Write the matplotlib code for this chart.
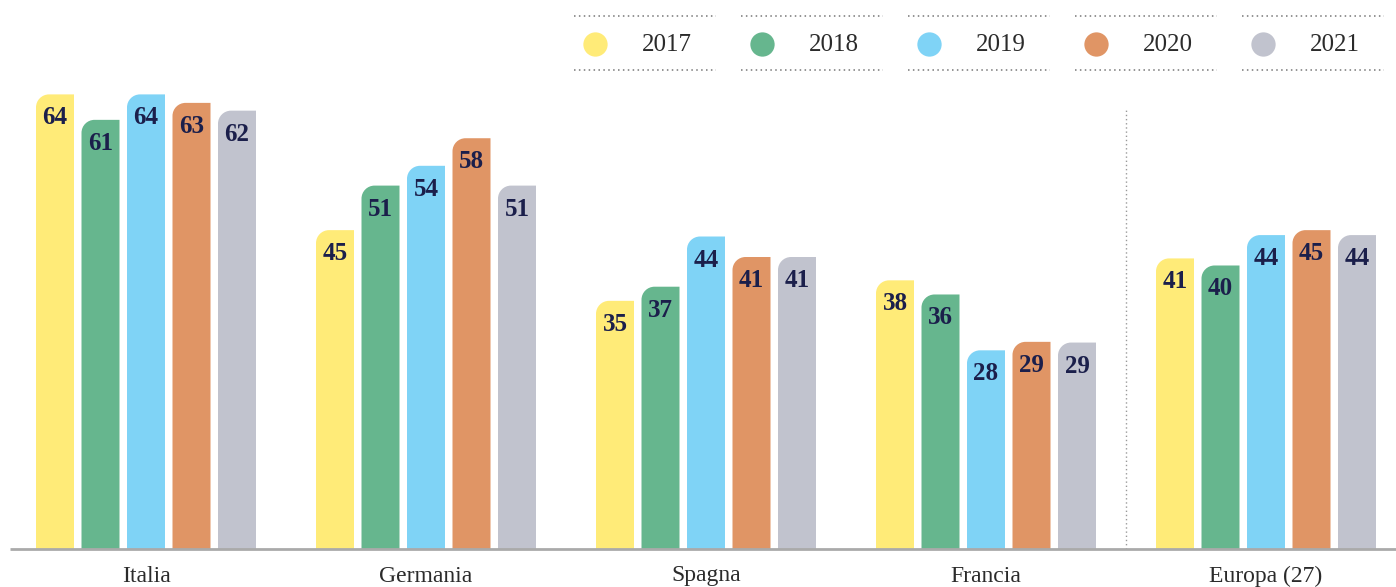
import matplotlib
matplotlib.use("Agg")
import matplotlib.pyplot as plt
from matplotlib.path import Path
from matplotlib.patches import PathPatch
from matplotlib.lines import Line2D

categories = ["Italia", "Germania", "Spagna", "Francia", "Europa (27)"]
years = ["2017", "2018", "2019", "2020", "2021"]
# bar heights (estimated, unrounded)
values = {
    "2017": [64.3, 45.1, 35.1, 38.0, 41.1],
    "2018": [60.7, 51.4, 37.1, 36.0, 40.1],
    "2019": [64.3, 54.2, 44.2, 28.1, 44.4],
    "2020": [63.1, 58.1, 41.3, 29.3, 45.1],
    "2021": [62.0, 51.4, 41.3, 29.2, 44.4],
}
# printed labels
labels = {
    "2017": [64, 45, 35, 38, 41],
    "2018": [61, 51, 37, 36, 40],
    "2019": [64, 54, 44, 28, 44],
    "2020": [63, 58, 41, 29, 45],
    "2021": [62, 51, 41, 29, 44],
}
colors = ["#FFEB78", "#66B68E", "#7FD3F6", "#E09565", "#C1C3CE"]
label_color = "#1B1F4B"

W, H = 1396, 587
fig = plt.figure(figsize=(W / 100, H / 100), dpi=100)
ax = fig.add_axes([0, 0, 1, 1])
ax.set_axis_off()

px_x = 280.0        # pixels per category unit
px_y = 7.07         # pixels per value unit
x0_px = 146.0       # pixel of first category centre
base_px = 549.0     # baseline pixel from top
ax.set_xlim(-x0_px / px_x, (W - x0_px) / px_x)
ax.set_ylim(-(H - base_px) / px_y, base_px / px_y)

step = 45.5 / px_x
bw = 38.0 / px_x
rx = 13.0 / px_x
ry = 13.0 / px_y
k = 0.5523

serif = ["Liberation Serif", "DejaVu Serif"]

for j, (yr, col) in enumerate(zip(years, colors)):
    for i, (v, lab) in enumerate(zip(values[yr], labels[yr])):
        xc = i + (j - 2) * step
        l, r = xc - bw / 2, xc + bw / 2
        verts = [
            (l, 0), (r, 0), (r, v), (l + rx, v),
            (l + rx * (1 - k), v), (l, v - ry * (1 - k)), (l, v - ry),
            (l, 0), (l, 0),
        ]
        codes = [Path.MOVETO, Path.LINETO, Path.LINETO, Path.LINETO,
                 Path.CURVE4, Path.CURVE4, Path.CURVE4,
                 Path.LINETO, Path.CLOSEPOLY]
        ax.add_patch(PathPatch(Path(verts, codes), facecolor=col,
                               edgecolor="none", zorder=2))
        ax.text(xc, v - 21 / px_y, str(lab), ha="center", va="center_baseline",
                fontsize=18, fontweight="bold", color=label_color,
                family=serif, zorder=3)

# baseline
ax.plot([-(x0_px - 10) / px_x, (W - x0_px) / px_x], [0, 0],
        color="#AAAAAA", lw=2, zorder=4, solid_capstyle="butt")

# dotted separator before Europa
xsep = 3.5
ax.plot([xsep, xsep], [0, (base_px - 110) / px_y], color="#999999",
        lw=1, ls=(0, (1, 2)), zorder=1)

# category labels
for i, c in enumerate(categories):
    ax.text(i, -27 / px_y, c, ha="center", va="center", fontsize=17,
            color="#2B2B2B", family=serif)

# legend (figure pixel coordinates)
def fx(p):
    return p / W

def fy(p):
    return 1 - p / H

for j, (yr, col) in enumerate(zip(years, colors)):
    lx = 574 + j * 167
    for yy in (16, 70):
        fig.add_artist(Line2D([fx(lx), fx(lx + 142)], [fy(yy), fy(yy)],
                              color="#777777", lw=1.1, ls=(0, (1, 2.2)),
                              transform=fig.transFigure))
    fig.add_artist(Line2D([fx(lx + 21)], [fy(44)], marker="o",
                          markersize=17.5, markerfacecolor=col,
                          markeredgecolor="none", linestyle="none",
                          transform=fig.transFigure))
    fig.text(fx(lx + 93), fy(45), yr, ha="center", va="center",
             fontsize=18, color="#2B2B2B", family=serif)

fig.savefig("out.png", dpi=100)
